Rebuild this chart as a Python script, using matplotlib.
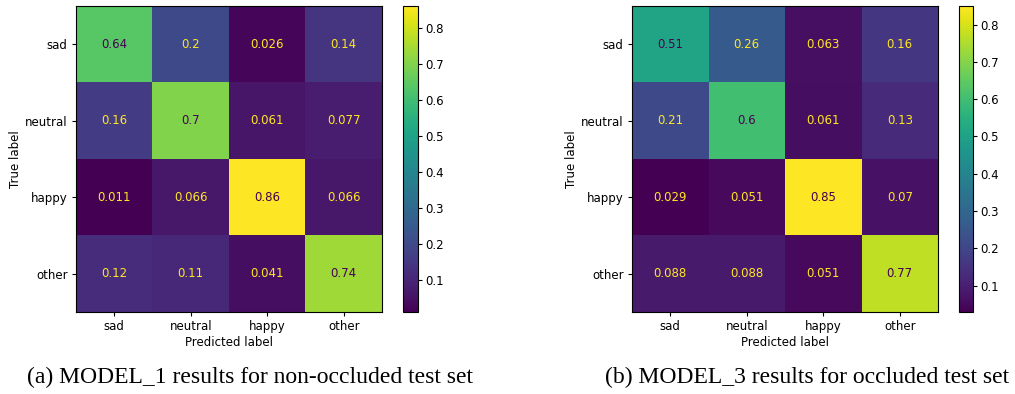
import matplotlib
matplotlib.use("Agg")
import matplotlib.pyplot as plt
import numpy as np

labels = ["sad", "neutral", "happy", "other"]
cm_a = [[0.64, 0.2, 0.026, 0.14],
        [0.16, 0.7, 0.061, 0.077],
        [0.011, 0.066, 0.86, 0.066],
        [0.12, 0.11, 0.041, 0.74]]
cm_b = [[0.51, 0.26, 0.063, 0.16],
        [0.21, 0.6, 0.061, 0.13],
        [0.029, 0.051, 0.85, 0.07],
        [0.088, 0.088, 0.051, 0.77]]
captions = ["(a) MODEL_1 results for non-occluded test set",
            "(b) MODEL_3 results for occluded test set"]
cbar_ticks = [0.1, 0.2, 0.3, 0.4, 0.5, 0.6, 0.7, 0.8]

W, H = 1015, 394
fig = plt.figure(figsize=(W / 100, H / 100), dpi=100)
fs = 8.5
cmap = plt.get_cmap("viridis")

def px(x0, y0, w, h):
    return [x0 / W, 1 - (y0 + h) / H, w / W, h / H]

panels = [
    (cm_a, 76, 403, 15, captions[0], 250),
    (cm_b, 632, 959, 14, captions[1], 807),
]
for cm, ax_x, cb_x, cb_w, cap, cap_x in panels:
    cm = np.array(cm)
    ax = fig.add_axes(px(ax_x, 6, 306, 306))
    im = ax.imshow(cm, cmap=cmap, aspect="auto")
    vmin, vmax = cm.min(), cm.max()
    thresh = (vmin + vmax) / 2
    for i in range(cm.shape[0]):
        for j in range(cm.shape[1]):
            c = cmap(0.0) if cm[i, j] >= thresh else cmap(1.0)
            ax.text(j, i, f"{cm[i, j]:.2g}", ha="center", va="center",
                    color=c, fontsize=fs)
    ax.set_xticks(range(len(labels)))
    ax.set_xticklabels(labels, fontsize=fs)
    ax.set_yticks(range(len(labels)))
    ax.set_yticklabels(labels, fontsize=fs)
    ax.set_xlabel("Predicted label", fontsize=fs, labelpad=2)
    ax.set_ylabel("True label", fontsize=fs, labelpad=2)
    ax.tick_params(length=3, pad=3)
    cax = fig.add_axes(px(cb_x, 6, cb_w, 306))
    cb = fig.colorbar(im, cax=cax)
    cb.set_ticks(cbar_ticks)
    cb.ax.tick_params(labelsize=fs, length=3, pad=2)
    cb.outline.set_linewidth(0.8)
    fig.text(cap_x / W, 1 - 377 / H, cap, ha="center", va="center",
             fontsize=17, family="Liberation Serif")

fig.savefig("out.png", dpi=100)
